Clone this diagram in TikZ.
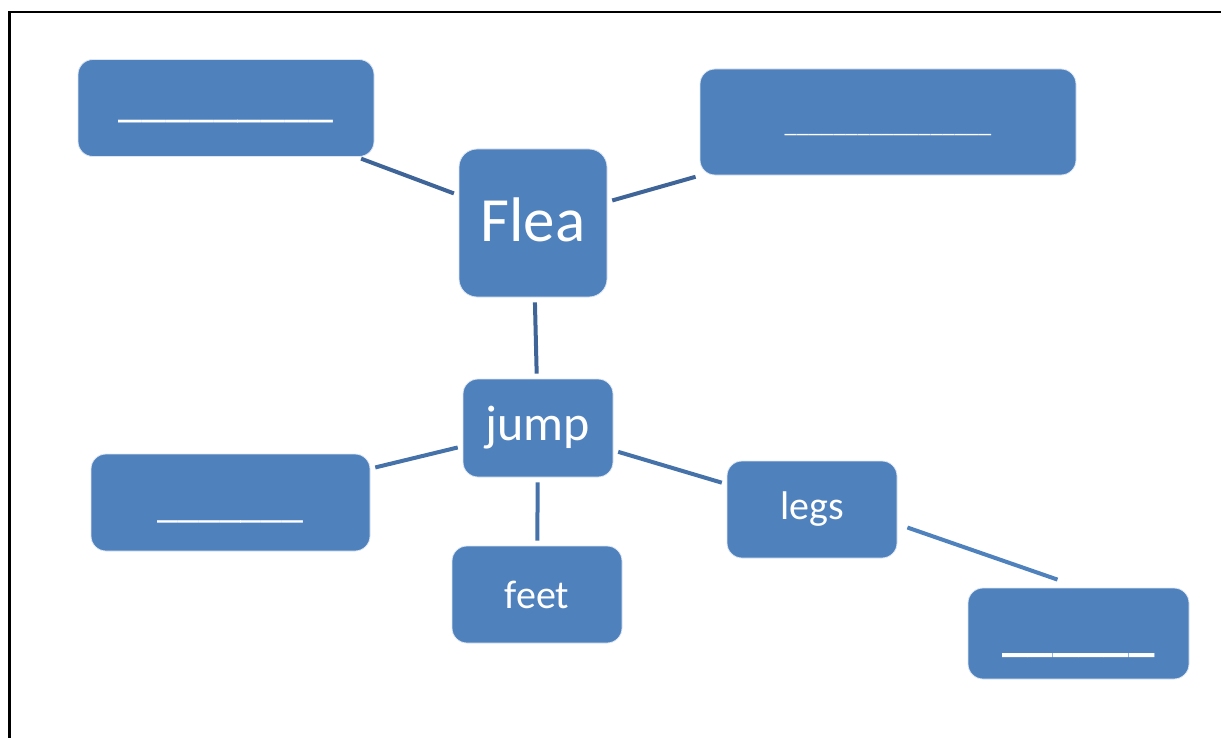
\documentclass[tikz,border=0pt]{standalone}
\usepackage{fontspec}
\setmainfont{Carlito}
\definecolor{boxblue}{HTML}{4F81BD}
\definecolor{linkdark}{HTML}{3F6598}
\definecolor{linkmid}{HTML}{4672AA}
\newcommand{\blank}[2]{\raisebox{-#1}[0pt][0pt]{#2}}
\tikzset{
  box/.style={rectangle, rounded corners=7.5pt, fill=boxblue, draw=white!80!boxblue, line width=0.4pt,
    text=white, inner sep=0pt, align=center},
  link/.style={line width=2pt, shorten <=2.5pt, shorten >=2.5pt}
}
\begin{document}
\begin{tikzpicture}[x=0.5pt, y=-0.5pt]
    \clip (0,0) rectangle (1221,738);
    % frame
    \draw[black, line width=1.25pt] (9.7,12.2) rectangle (1260,780);

    % boxes
    \node[box, rounded corners=9pt, minimum width=74pt, minimum height=74pt,
      font=\fontsize{31.5pt}{36pt}\selectfont] (flea) at (533,223) {\raisebox{3pt}{Flea}};
    \node[box, minimum width=75pt, minimum height=49pt,
      font=\fontsize{25pt}{30pt}\selectfont] (jump) at (538,428) {\raisebox{-1.5pt}{jump}};
    \node[box, minimum width=148pt, minimum height=48.5pt,
      font=\fontsize{24pt}{28pt}\selectfont] (tl) at (226,108) {\blank{4.3pt}{\_\_\_\_\_\_\_\_\_}};
    \node[box, minimum width=188pt, minimum height=53pt,
      font=\fontsize{12.2pt}{14pt}\selectfont] (tr) at (888,122) {\blank{5.3pt}{\_\_\_\_\_\_\_\_\_\_\_\_\_\_\_\_\_}};
    \node[box, minimum width=139.5pt, minimum height=48.5pt,
      font=\fontsize{21pt}{25pt}\selectfont] (lb) at (230.5,502.5) {\blank{7.6pt}{\_\_\_\_\_\_\_}};
    \node[box, minimum width=85pt, minimum height=48.5pt,
      font=\fontsize{20pt}{24pt}\selectfont] (feet) at (537,594.5) {feet};
    \node[box, minimum width=85pt, minimum height=48.5pt,
      font=\fontsize{20pt}{24pt}\selectfont] (legs) at (812,509.5) {legs};
    \node[box, minimum width=110.5pt, minimum height=45.5pt,
      font=\bfseries\fontsize{25.5pt}{30pt}\selectfont] (br) at (1078.5,633.5) {\blank{8.7pt}{\_\_\_\_\_\_}};

    % connectors
    \foreach \a/\b/\c in {tl/flea/linkdark, tr/flea/linkdark, flea/jump/linkdark,
      jump/lb/linkmid, jump/feet/linkmid, jump/legs/linkmid}
        \draw[link, \c] (\a) -- (\b);
    \draw[line width=2pt, boxblue] ([shift={(10,18)}]legs.east) -- ([shift={(-21,-8)}]br.north);
\end{tikzpicture}
\end{document}
